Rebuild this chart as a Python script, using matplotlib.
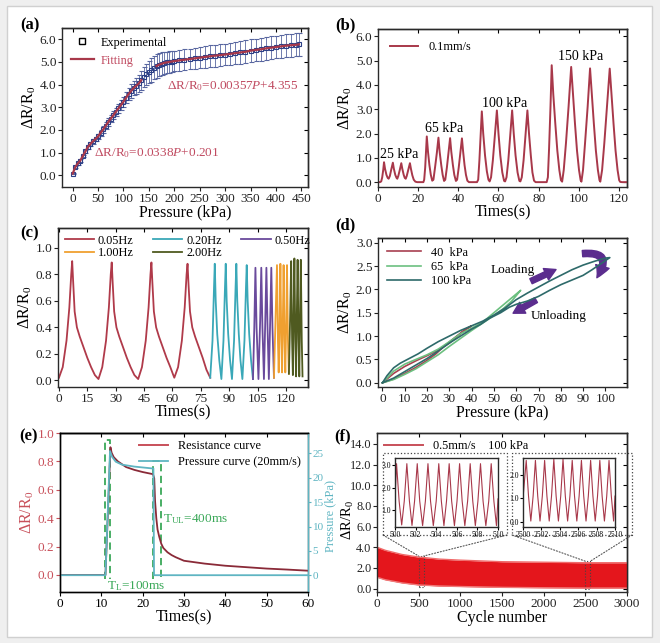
import numpy as np
import matplotlib
matplotlib.use('Agg')
import matplotlib.pyplot as plt
from matplotlib.patches import Rectangle, FancyArrowPatch, ConnectionPatch
from matplotlib.lines import Line2D
from matplotlib.ticker import FormatStrFormatter

plt.rcParams['font.family'] = ['Liberation Serif', 'DejaVu Serif']
plt.rcParams['mathtext.fontset'] = 'custom'
plt.rcParams['mathtext.rm'] = 'Liberation Serif'
plt.rcParams['mathtext.it'] = 'Liberation Serif:italic'
plt.rcParams['mathtext.bf'] = 'Liberation Serif:bold'
plt.rcParams['axes.linewidth'] = 1.0
plt.rcParams['xtick.labelsize'] = 9.5
plt.rcParams['ytick.labelsize'] = 9.5

# ---------------- data ----------------
# (a)
a_pressure = [0, 5, 10, 15, 20, 25, 30, 35, 40, 45, 50, 55, 60, 65, 70, 75, 80, 85, 90, 95,
              100, 105, 110, 115, 120, 125, 130, 135, 140, 145, 150, 155, 160, 165, 170, 175,
              180, 185, 190, 195, 200, 210, 220, 230, 240, 250, 260, 270, 280, 290, 300, 310,
              320, 330, 340, 350, 360, 370, 380, 390, 400, 410, 420, 430, 440, 445]
a_response = [0.07, 0.35, 0.52, 0.65, 0.85, 1.05, 1.25, 1.38, 1.5, 1.6, 1.72, 1.87, 2.02, 2.18,
              2.35, 2.5, 2.65, 2.8, 2.95, 3.1, 3.25, 3.42, 3.58, 3.72, 3.85, 3.95, 4.05, 4.2,
              4.33, 4.45, 4.55, 4.65, 4.75, 4.82, 4.88, 4.92, 4.96, 4.98, 5.0, 5.02, 5.04, 5.07,
              5.1, 5.13, 5.16, 5.19, 5.22, 5.25, 5.28, 5.3, 5.33, 5.36, 5.39, 5.42, 5.45, 5.5,
              5.53, 5.56, 5.6, 5.63, 5.66, 5.69, 5.72, 5.74, 5.76, 5.78]
a_error = [0.03, 0.04, 0.05, 0.05, 0.06, 0.07, 0.08, 0.09, 0.1, 0.1, 0.12, 0.12, 0.14, 0.15,
           0.16, 0.17, 0.18, 0.19, 0.2, 0.2, 0.22, 0.25, 0.28, 0.3, 0.33, 0.35, 0.38, 0.42,
           0.45, 0.48, 0.5, 0.52, 0.52, 0.52, 0.5, 0.5, 0.48, 0.48, 0.47, 0.47, 0.46, 0.46,
           0.46, 0.46, 0.47, 0.47, 0.47, 0.48, 0.48, 0.48, 0.48, 0.48, 0.49, 0.49, 0.5, 0.5,
           0.5, 0.5, 0.5, 0.5, 0.5, 0.5, 0.5, 0.5, 0.5, 0.5]
a_fit_low_max = 135
a_fit_high_min = 165

# (b)
b_time = [0, 1.0, 1.6, 2.1, 2.6, 3.0, 3.5, 4.2, 4.8, 5.3,
          5.9, 6.6, 7.4, 7.9, 8.6, 9.2, 9.6,
          10.1, 10.9, 11.6, 12.1, 12.8, 13.3, 13.8,
          14.3, 15.1, 15.9, 16.4, 17.1, 17.8, 18.6, 19.5, 22.6,
          23.0, 23.5, 23.9, 24.3, 24.9, 25.6, 26.3, 27.0,
          27.6, 28.4, 29.3, 30.1, 30.7, 31.5, 32.2, 32.9,
          33.5, 34.3, 35.1, 35.9, 36.5, 37.3, 38.0, 38.8,
          39.4, 40.2, 41.0, 41.8, 42.4, 43.1, 43.8, 44.5, 45.3, 49.3,
          49.9, 50.5, 51.1, 51.7, 52.4, 53.3, 54.2, 55.0, 55.6,
          56.3, 57.2, 58.2, 59.2, 60.0, 60.9, 61.9, 62.8, 63.3,
          64.0, 64.9, 65.8, 66.8, 67.6, 68.5, 69.5, 70.4, 70.9,
          71.6, 72.5, 73.4, 74.4, 75.2, 76.1, 76.9, 77.7, 78.5, 84.0,
          84.6, 85.2, 85.9, 86.5, 87.3, 88.3, 89.3, 90.3, 91.1, 91.7,
          92.5, 93.6, 94.9, 96.2, 97.1, 98.1, 99.1, 100.1, 100.9, 101.3,
          102.1, 103.1, 104.4, 105.6, 106.5, 107.5, 108.5, 109.5, 110.3, 110.7,
          111.6, 112.7, 114.0, 115.4, 116.3, 117.3, 118.3, 119.3, 120.1, 120.6, 121.5, 124.0]
b_response = [0, 0, 0.03, 0.2, 0.5, 0.82, 0.55, 0.3, 0.18, 0.14,
              0.25, 0.52, 0.80, 0.55, 0.3, 0.18, 0.14,
              0.25, 0.52, 0.78, 0.55, 0.3, 0.18, 0.14,
              0.25, 0.52, 0.78, 0.55, 0.28, 0.1, 0.02, 0, 0,
              0.1, 0.6, 1.2, 1.88, 1.25, 0.7, 0.3, 0.06,
              0.1, 0.6, 1.2, 1.83, 1.25, 0.7, 0.3, 0.05,
              0.1, 0.6, 1.2, 1.81, 1.25, 0.7, 0.3, 0.05,
              0.1, 0.6, 1.2, 1.80, 1.25, 0.7, 0.3, 0.06, 0, 0,
              0.1, 0.9, 1.9, 2.91, 2.0, 1.1, 0.45, 0.1, 0.03,
              0.2, 0.9, 1.9, 2.95, 2.0, 1.1, 0.4, 0.05, 0.03,
              0.2, 0.9, 1.9, 2.95, 2.0, 1.1, 0.4, 0.05, 0.03,
              0.2, 0.9, 1.9, 2.95, 2.0, 1.1, 0.4, 0.06, 0, 0,
              0.2, 1.4, 3.1, 4.81, 3.6, 2.4, 1.3, 0.5, 0.08, 0.02,
              0.5, 1.6, 3.1, 4.74, 3.6, 2.4, 1.3, 0.5, 0.08, 0.02,
              0.5, 1.6, 3.1, 4.68, 3.6, 2.4, 1.3, 0.5, 0.08, 0.02,
              0.5, 1.6, 3.1, 4.67, 3.6, 2.4, 1.3, 0.5, 0.08, 0.01, 0, 0]
b_labels = ['25 kPa', '65 kPa', '100 kPa', '150 kPa']
b_label_pos = [(10.5, 1.14), (33, 2.2), (63, 3.23), (100.8, 5.15)]

# (c)
c_freqs = ['0.05Hz', '0.20Hz', '0.50Hz', '1.00Hz', '2.00Hz']
c_t_005 = [0, 2, 4, 5.5, 6.5, 7.0, 7.5, 8.3, 9.5, 11, 13, 15, 17, 19, 20.9,
           22.9, 24.9, 26.4, 27.4, 27.9, 28.4, 29.2, 30.4, 31.9, 33.9, 35.9, 37.9, 39.9, 41.9,
           43.9, 45.9, 47.4, 48.4, 48.9, 49.4, 50.2, 51.4, 52.9, 54.9, 56.9, 58.9, 60.2, 61.0,
           63.0, 65.0, 66.5, 67.5, 68.0, 68.5, 69.3, 70.5, 72, 74, 76, 78, 80]
c_v_005 = [0.02, 0.1, 0.3, 0.55, 0.8, 0.9, 0.75, 0.52, 0.4, 0.33, 0.25, 0.17, 0.1, 0.04, 0.01,
           0.1, 0.3, 0.55, 0.8, 0.89, 0.74, 0.52, 0.4, 0.33, 0.25, 0.17, 0.1, 0.04, 0.01,
           0.1, 0.3, 0.55, 0.8, 0.89, 0.74, 0.52, 0.4, 0.33, 0.25, 0.17, 0.1, 0.05, 0.02,
           0.1, 0.3, 0.55, 0.8, 0.88, 0.73, 0.52, 0.4, 0.33, 0.25, 0.17, 0.08, 0.02]
c_t_020 = [80, 81.2, 82.0, 82.4, 82.9, 83.7, 84.8, 85.9, 87.0, 87.8, 88.2, 88.7, 89.5, 90.5,
           91.5, 92.6, 93.4, 93.8, 94.3, 95.1, 96.0, 97.0, 98.1, 98.9, 99.3, 99.8, 100.6,
           101.6, 102.6]
c_v_020 = [0.02, 0.3, 0.7, 0.88, 0.6, 0.35, 0.15, 0.01, 0.3, 0.7, 0.88, 0.6, 0.35, 0.15,
           0.01, 0.3, 0.7, 0.88, 0.6, 0.35, 0.15, 0.01, 0.3, 0.7, 0.87, 0.6, 0.35, 0.15, 0.01]
c_t_050 = [102.6, 103.3, 103.9, 104.5, 105.5, 106.4, 107.0, 107.6, 108.4, 109.1, 109.7,
           110.3, 111.0, 111.7, 112.3, 112.9, 113.7]
c_v_050 = [0.01, 0.4, 0.85, 0.4, 0.01, 0.45, 0.85, 0.4, 0.01, 0.45, 0.85, 0.4, 0.01, 0.45,
           0.85, 0.4, 0.02]
c_t_100 = [113.7, 114.5, 115.3, 115.8, 116.2, 116.7, 117.1, 117.6, 118.0, 118.4, 118.8,
           119.3, 119.7, 120.2, 120.6, 121.1, 121.6]
c_v_100 = [0.02, 0.45, 0.87, 0.3, 0.06, 0.45, 0.88, 0.3, 0.06, 0.45, 0.87, 0.3, 0.06, 0.45,
           0.87, 0.3, 0.05]
c_t_200 = [121.6, 122.3, 122.8, 123.3, 123.7, 124.1, 124.5, 125.0, 125.4, 125.8, 126.2,
           126.7, 127.1, 127.5, 127.9, 128.4, 128.8]
c_v_200 = [0.05, 0.5, 0.9, 0.3, 0.04, 0.5, 0.92, 0.3, 0.03, 0.5, 0.91, 0.3, 0.03, 0.5,
           0.91, 0.3, 0.03]

# (d)
d_labels = ['40  kPa', '65  kPa', '100 kPa']
d_p_40 = [0, 5, 10, 15, 20, 25, 30, 35, 38, 40, 36, 32, 28, 24, 20, 15, 10, 5, 0]
d_v_40 = [0, 0.2, 0.35, 0.47, 0.58, 0.7, 0.85, 1.05, 1.17, 1.22, 1.1, 0.95, 0.8, 0.62,
          0.48, 0.33, 0.2, 0.08, 0]
d_p_65 = [0, 5, 10, 15, 20, 25, 30, 35, 40, 45, 50, 55, 60, 62,
          58, 54, 50, 45, 40, 35, 30, 25, 20, 15, 10, 5, 0]
d_v_65 = [0, 0.25, 0.4, 0.5, 0.6, 0.72, 0.88, 1.05, 1.17, 1.3, 1.5, 1.7, 1.9, 1.98,
          1.75, 1.58, 1.44, 1.28, 1.12, 0.95, 0.78, 0.6, 0.45, 0.3, 0.18, 0.07, 0]
d_p_100 = [0, 2, 5, 8, 12, 16, 20, 25, 30, 35, 40, 45, 50, 55, 60, 65, 70, 75, 80, 85, 90,
           95, 100, 102,
           98, 94, 90, 85, 80, 75, 70, 65, 60, 57, 53, 48, 44, 40, 35, 30, 25, 20, 15, 10, 5, 0]
d_v_100 = [0, 0.15, 0.32, 0.42, 0.52, 0.62, 0.74, 0.88, 1.0, 1.12, 1.22, 1.32, 1.45, 1.6,
           1.78, 1.92, 2.05, 2.18, 2.3, 2.42, 2.52, 2.6, 2.67, 2.68,
           2.55, 2.42, 2.3, 2.2, 2.1, 1.98, 1.85, 1.75, 1.68, 1.62, 1.5, 1.38, 1.25, 1.15,
           1.0, 0.85, 0.68, 0.52, 0.38, 0.24, 0.1, 0]

# (e)
e_res_t = [0, 11.0, 12.2, 12.5, 13, 14, 15, 16, 18, 20, 22.5, 22.8, 23.0, 23.3, 23.6, 24.0,
           24.5, 25.0, 26, 27, 28, 30, 35, 40, 45, 50, 55, 60]
e_res_v = [0, 0, 0.90, 0.86, 0.83, 0.80, 0.78, 0.76, 0.74, 0.725, 0.71, 0.68, 0.52, 0.4,
           0.32, 0.27, 0.22, 0.19, 0.16, 0.14, 0.125, 0.1, 0.08, 0.065, 0.055, 0.045, 0.038,
           0.03]
e_pres_t = [0, 11.0, 12.1, 12.6, 13.5, 15, 18, 22.6, 22.75, 60]
e_pres_v = [0, 0, 25.5, 24.3, 23.3, 22.7, 22.3, 21.9, 0, 0]

# (f)
f_cycle = [0, 100, 200, 300, 500, 750, 1000, 1500, 2000, 2500, 3000]
f_upper = [4.0, 3.7, 3.5, 3.3, 3.05, 2.85, 2.75, 2.6, 2.55, 2.5, 2.5]
f_lower = [1.1, 0.85, 0.7, 0.55, 0.35, 0.25, 0.2, 0.12, 0.08, 0.05, 0.05]
f_in1_x = [500.0, 500.15, 500.4, 500.65, 500.9, 501.15, 501.4, 501.65, 501.9, 502.16, 502.4,
           502.68, 502.95, 503.2, 503.45, 503.72, 504.0, 504.25, 504.5, 504.75, 505.0,
           505.26, 505.5, 505.77, 506.02, 506.27, 506.52, 506.78, 507.05, 507.3, 507.55,
           507.8, 508.05, 508.3, 508.55, 508.82, 509.1, 509.34, 509.6, 509.85, 510.0]
f_in1_y = [1.5, 3.05, 1.4, 0.35, 1.4, 3.05, 1.4, 0.33, 1.4, 3.05, 1.4, 0.32, 1.4, 3.05, 1.4,
           0.32, 1.4, 3.05, 1.4, 0.32, 1.4, 3.05, 1.4, 0.32, 1.4, 3.05, 1.4, 0.32, 1.4, 3.05,
           1.4, 0.32, 1.4, 3.05, 1.4, 0.32, 1.4, 3.05, 1.4, 0.32, 1.5]
f_in2_x = [2500.0, 2500.35, 2500.6, 2500.85, 2501.1, 2501.35, 2501.6, 2501.85, 2502.1,
           2502.35, 2502.6, 2502.85, 2503.1, 2503.35, 2503.6, 2503.85, 2504.1, 2504.35,
           2504.6, 2504.85, 2505.1, 2505.35, 2505.6, 2505.85, 2506.1, 2506.35, 2506.6,
           2506.85, 2507.1, 2507.35, 2507.6, 2507.85, 2508.1, 2508.35, 2508.6, 2508.85,
           2509.1, 2509.35, 2509.6, 2509.85, 2510.0]
f_in2_y = [1.0, 2.6, 1.1, 0.05, 1.1, 2.6, 1.1, 0.05, 1.1, 2.6, 1.1, 0.05, 1.1, 2.65, 1.1,
           0.05, 1.1, 2.65, 1.1, 0.05, 1.1, 2.6, 1.1, 0.05, 1.1, 2.6, 1.1, 0.05, 1.1, 2.6,
           1.1, 0.05, 1.1, 2.6, 1.1, 0.05, 1.1, 2.6, 1.1, 0.05, 1.1]

# ---------------- styling helpers ----------------
W, H = 660, 643
fig = plt.figure(figsize=(W / 100, H / 100), dpi=100)
fig.patch.set_facecolor('#efefef')
fig.patches.append(Rectangle((7 / W, 1 - 637 / H), 645 / W, 631 / H, transform=fig.transFigure,
                             facecolor='white', edgecolor='#d0d0d0', lw=1.0, zorder=-5))

SPINE = '#2a2a2a'
LABEL_FS = 11.5
LEG_FS = 8.8
TXT_FS = 9.5


def px_axes(x0, y0, x1, y1):
    return fig.add_axes([x0 / W, 1 - y1 / H, (x1 - x0) / W, (y1 - y0) / H])


def style(ax, mirror_x=True, mirror_y=True):
    for s in ax.spines.values():
        s.set_color(SPINE)
    ax.tick_params(direction='out', length=3, width=0.8, pad=1, colors='#222222')
    if mirror_x:
        sx = ax.secondary_xaxis('top')
        sx.set_xticks(ax.get_xticks())
        sx.tick_params(direction='in', length=3, width=0.8, labeltop=False)
        sx.spines['top'].set_color(SPINE)
    if mirror_y:
        sy = ax.secondary_yaxis('right')
        sy.set_yticks(ax.get_yticks())
        sy.tick_params(direction='in', length=3, width=0.8, labelright=False)
        sy.spines['right'].set_color(SPINE)


def panel_label(x, y, s):
    fig.text(x / W, 1 - y / H, s, fontsize=12, fontweight='bold', ha='left', va='center')


RED = '#a8384a'

# ---------------- (a) ----------------
ax = px_axes(62, 28, 308, 187)
ax.errorbar(a_pressure, a_response, yerr=a_error, fmt='s', mfc='none', mec='#2b3f86', ms=3.4,
            mew=0.8, ecolor='#5866a0', elinewidth=0.6, capsize=1.8, capthick=0.6, zorder=2)
lowx = [p for p in a_pressure if p <= a_fit_low_max]
lowy = [v for p, v in zip(a_pressure, a_response) if p <= a_fit_low_max]
highx = [p for p in a_pressure if p >= a_fit_high_min]
highy = [v for p, v in zip(a_pressure, a_response) if p >= a_fit_high_min]
ax.plot(lowx, lowy, color=RED, lw=1.6, zorder=3)
ax.plot(highx, highy, color=RED, lw=1.6, zorder=3)
ax.set_xlim(-21, 463)
ax.set_ylim(-0.52, 6.5)
ax.set_xticks(range(0, 451, 50))
ax.set_yticks([0, 1, 2, 3, 4, 5, 6])
ax.yaxis.set_major_formatter(FormatStrFormatter('%.1f'))
ax.set_xlabel('Pressure (kPa)', fontsize=LABEL_FS, labelpad=0)
ax.set_ylabel(r'ΔR/R$_0$', fontsize=LABEL_FS, labelpad=1)
h1 = Line2D([], [], marker='s', ls='none', mfc='none', mec='black', ms=4.5, mew=1)
h2 = Line2D([], [], color=RED, lw=1.6)
leg = ax.legend([h1, h2], ['Experimental', 'Fitting'], loc='upper left', frameon=False,
                fontsize=LEG_FS, handlelength=1.9, handletextpad=0.6, borderaxespad=0.3,
                labelspacing=0.5)
leg.get_texts()[1].set_color('#c04a60')
ax.text(315, 3.94, r'ΔR/R$_0$=0.00357$P$+4.355', color='#c04a60', fontsize=TXT_FS,
        ha='center', va='center')
ax.text(165, 0.99, r'ΔR/R$_0$=0.0338$P$+0.201', color='#c04a60', fontsize=TXT_FS,
        ha='center', va='center')
style(ax)
panel_label(20, 25, '(a)')

# ---------------- (b) ----------------
ax = px_axes(378, 29, 627, 187)
ax.plot(b_time, b_response, color=RED, lw=1.4, label='0.1mm/s')
for s, (x, y) in zip(b_labels, b_label_pos):
    ax.text(x, y, s, fontsize=TXT_FS + 0.5, ha='center', va='center')
ax.set_xlim(0, 124)
ax.set_ylim(-0.2, 6.3)
ax.set_xticks(range(0, 121, 20))
ax.set_yticks([0, 1, 2, 3, 4, 5, 6])
ax.yaxis.set_major_formatter(FormatStrFormatter('%.1f'))
ax.set_xlabel('Times(s)', fontsize=LABEL_FS, labelpad=0)
ax.set_ylabel(r'ΔR/R$_0$', fontsize=LABEL_FS, labelpad=1)
ax.legend(loc='upper left', frameon=False, fontsize=LEG_FS, handlelength=2.3,
          borderaxespad=0.6)
style(ax)
panel_label(335, 25, '(b)')

# ---------------- (c) ----------------
ax = px_axes(58, 228, 308, 387)
c_cols = ['#b03a4a', '#3aa8b8', '#6a4a9c', '#f0a030', '#4f5a20']
lines = []
for (t, v), col, lab in zip([(c_t_005, c_v_005), (c_t_020, c_v_020), (c_t_050, c_v_050),
                             (c_t_100, c_v_100), (c_t_200, c_v_200)], c_cols, c_freqs):
    ln, = ax.plot(t, v, color=col, lw=1.3, label=lab)
    lines.append(ln)
ax.set_xlim(-0.5, 131.7)
ax.set_ylim(-0.05, 1.15)
ax.set_xticks(range(0, 121, 15))
ax.set_yticks([0, 0.2, 0.4, 0.6, 0.8, 1.0])
ax.yaxis.set_major_formatter(FormatStrFormatter('%.1f'))
ax.set_xlabel('Times(s)', fontsize=LABEL_FS, labelpad=0)
ax.set_ylabel(r'ΔR/R$_0$', fontsize=LABEL_FS, labelpad=1)
order = [0, 3, 1, 4, 2]
ax.legend([lines[i] for i in order], [c_freqs[i] for i in order], loc='upper left', ncol=3,
          frameon=False, fontsize=LEG_FS, handlelength=2.4, columnspacing=1.6,
          borderaxespad=0.15, labelspacing=0.05, handletextpad=0.3)
style(ax)
panel_label(20, 233, '(c)')

# ---------------- (d) ----------------
ax = px_axes(378, 238, 627, 387)
ax.plot(d_p_40, d_v_40, color='#a84050', lw=1.2, label=d_labels[0])
ax.plot(d_p_65, d_v_65, color='#6cc080', lw=1.2, label=d_labels[1])
ax.plot(d_p_100, d_v_100, color='#2e6a6a', lw=1.2, label=d_labels[2])
PUR = '#5b2d8e'
ax.add_patch(FancyArrowPatch((65.5, 2.15), (79.0, 2.45),
                             arrowstyle='simple,head_width=9,head_length=8,tail_width=4',
                             color=PUR, mutation_scale=1))
ax.add_patch(FancyArrowPatch((70.0, 1.80), (57.5, 1.46),
                             arrowstyle='simple,head_width=9,head_length=8,tail_width=4',
                             color=PUR, mutation_scale=1))
ax.add_patch(FancyArrowPatch((88.5, 2.76), (95.5, 2.2), connectionstyle='arc3,rad=-1.1',
                             arrowstyle='simple,head_width=10,head_length=9,tail_width=4.5',
                             color=PUR, mutation_scale=1))
ax.text(58.5, 2.42, 'Loading', fontsize=TXT_FS, ha='center', va='center')
ax.text(79, 1.42, 'Unloading', fontsize=TXT_FS, ha='center', va='center')
ax.set_xlim(-2, 109.7)
ax.set_ylim(-0.09, 3.1)
ax.set_xticks(range(0, 101, 10))
ax.set_yticks([0, 0.5, 1.0, 1.5, 2.0, 2.5, 3.0])
ax.yaxis.set_major_formatter(FormatStrFormatter('%.1f'))
ax.set_xlabel('Pressure (kPa)', fontsize=LABEL_FS, labelpad=0)
ax.set_ylabel(r'ΔR/R$_0$', fontsize=LABEL_FS, labelpad=1)
ax.legend(loc='upper left', frameon=False, fontsize=LEG_FS, handlelength=2.8,
          borderaxespad=0.3, labelspacing=0.2)
style(ax)
panel_label(335, 225, '(d)')

# ---------------- (e) ----------------
ax = px_axes(60, 433, 308, 592)
RC = '#c8505a'
TC = '#5fb5c2'
GR = '#3aa858'
ax2 = ax.twinx()
l1, = ax.plot(e_res_t, e_res_v, color='#8a2a38', lw=1.3, zorder=3)
l2, = ax2.plot(e_pres_t, e_pres_v, color=TC, lw=1.3)
ax.plot([10.9, 10.9, 12.1, 12.1], [-0.03, 0.95, 0.95, -0.03], color=GR, lw=1.3, ls=(0, (4, 2.5)))
ax.plot([22.4, 22.4, 24.4, 24.4], [-0.03, 0.80, 0.80, -0.03], color=GR, lw=1.3, ls=(0, (4, 2.5)))
ax.text(11.3, -0.075, r'T$_\mathrm{L}$=100ms', color=GR, fontsize=TXT_FS, ha='left', va='center')
ax.text(25.0, 0.39, r'T$_\mathrm{UL}$=400ms', color=GR, fontsize=TXT_FS, ha='left', va='center')
ax.set_xlim(0, 60)
ax.set_ylim(-0.12, 1.0)
ax2.set_ylim(-3.45, 29.2)
ax.set_xticks(range(0, 61, 10))
ax.set_yticks([0, 0.2, 0.4, 0.6, 0.8, 1.0])
ax.yaxis.set_major_formatter(FormatStrFormatter('%.1f'))
ax2.set_yticks([0, 5, 10, 15, 20, 25])
ax.set_xlabel('Times(s)', fontsize=LABEL_FS, labelpad=0)
ax.set_ylabel(r'ΔR/R$_0$', fontsize=LABEL_FS, labelpad=1, color=RC)
ax2.set_ylabel('Pressure (kPa)', fontsize=9, color=TC)
ax2.yaxis.set_label_coords(1 + (324.5 - 308) / 248, 0.48)
for s in ax.spines.values():
    s.set_color(SPINE)
ax.tick_params(direction='out', length=3, width=0.8, pad=1)
ax.tick_params(axis='y', colors=RC)
ax2.tick_params(direction='out', length=2.5, width=0.8, pad=0.8, colors=TC, labelsize=8)
ax2.spines['right'].set_color(TC)
sx = ax.secondary_xaxis('top')
sx.set_xticks(ax.get_xticks())
sx.tick_params(direction='in', length=3, width=0.8, labeltop=False)
ax2.legend([Line2D([], [], color=RC, lw=1.4), l2], ['Resistance curve', 'Pressure curve (20mm/s)'],
           loc='upper right', frameon=False, fontsize=LEG_FS, handlelength=2.4,
           borderaxespad=0.2, labelspacing=0.3)
panel_label(19, 436, '(e)')

# ---------------- (f) ----------------
ax = px_axes(377, 433, 627, 592)
ax.fill_between(f_cycle, f_lower, f_upper, color='#e4161c', lw=0)
ax.plot(f_cycle, f_upper, color='#f06a6a', lw=1.0)
ax.plot(f_cycle, f_lower, color='#f07a7a', lw=1.0)
ax.plot([], [], color='#c8505a', lw=1.4, label='0.5mm/s    100 kPa')
ax.set_xlim(0, 3000)
ax.set_ylim(-0.33, 15.05)
ax.set_xticks(range(0, 3001, 500))
ax.set_yticks([0, 2, 4, 6, 8, 10, 12, 14])
ax.yaxis.set_major_formatter(FormatStrFormatter('%.1f'))
ax.set_xlabel('Cycle number', fontsize=LABEL_FS, labelpad=0)
ax.set_ylabel(r'ΔR/R$_0$', fontsize=10.5)
ax.yaxis.set_label_coords((356 - 377) / 250, 0.45)
ax.legend(loc='upper left', frameon=False, fontsize=LEG_FS, handlelength=3.2,
          borderaxespad=0.2)
style(ax)
ax.tick_params(axis='y', labelsize=8.8)
ax.add_patch(Rectangle((500, 0.2), 60, 2.95, fill=False, ls=':', lw=0.8, ec='#444444'))
ax.add_patch(Rectangle((2500, 0.0), 60, 2.65, fill=False, ls=':', lw=0.8, ec='#444444'))

in1 = px_axes(395, 458, 498, 527)
in1.plot(f_in1_x, f_in1_y, color='#a8384a', lw=0.8)
in1.set_xlim(500, 510)
in1.set_ylim(0.26, 3.3)
in1.set_xticks(range(500, 511, 2))
in1.set_yticks([1, 2, 3])
in1.yaxis.set_major_formatter(FormatStrFormatter('%.1f'))
in2 = px_axes(523, 458, 615, 527)
in2.plot(f_in2_x, f_in2_y, color='#a8384a', lw=0.8)
in2.set_xlim(2500, 2510)
in2.set_ylim(-0.2, 2.7)
in2.set_xticks(range(2500, 2511, 2))
in2.set_yticks([0, 1, 2])
in2.yaxis.set_major_formatter(FormatStrFormatter('%.1f'))
for a in (in1, in2):
    a.tick_params(labelsize=5.5, length=2, pad=1, direction='out')
    for s in a.spines.values():
        s.set_color(SPINE)

for (x0, y0, x1, y1) in [(383, 453, 507, 535), (512, 453, 632, 535)]:
    fig.patches.append(Rectangle((x0 / W, 1 - y1 / H), (x1 - x0) / W, (y1 - y0) / H,
                                 transform=fig.transFigure, fill=False, ls=':', lw=0.9,
                                 ec='#444444', zorder=5))
for (fx, fy, dx, dy) in [(383, 535, 500, 3.15), (507, 535, 560, 3.15),
                         (512, 535, 2500, 2.65), (632, 535, 2560, 2.65)]:
    con = ConnectionPatch(xyA=(fx / W, 1 - fy / H), coordsA=fig.transFigure,
                          xyB=(dx, dy), coordsB=ax.transData, ls=':', lw=0.8, color='#555555')
    fig.add_artist(con)
panel_label(334, 436, '(f)')

fig.savefig('out.png', dpi=100, facecolor=fig.get_facecolor())
